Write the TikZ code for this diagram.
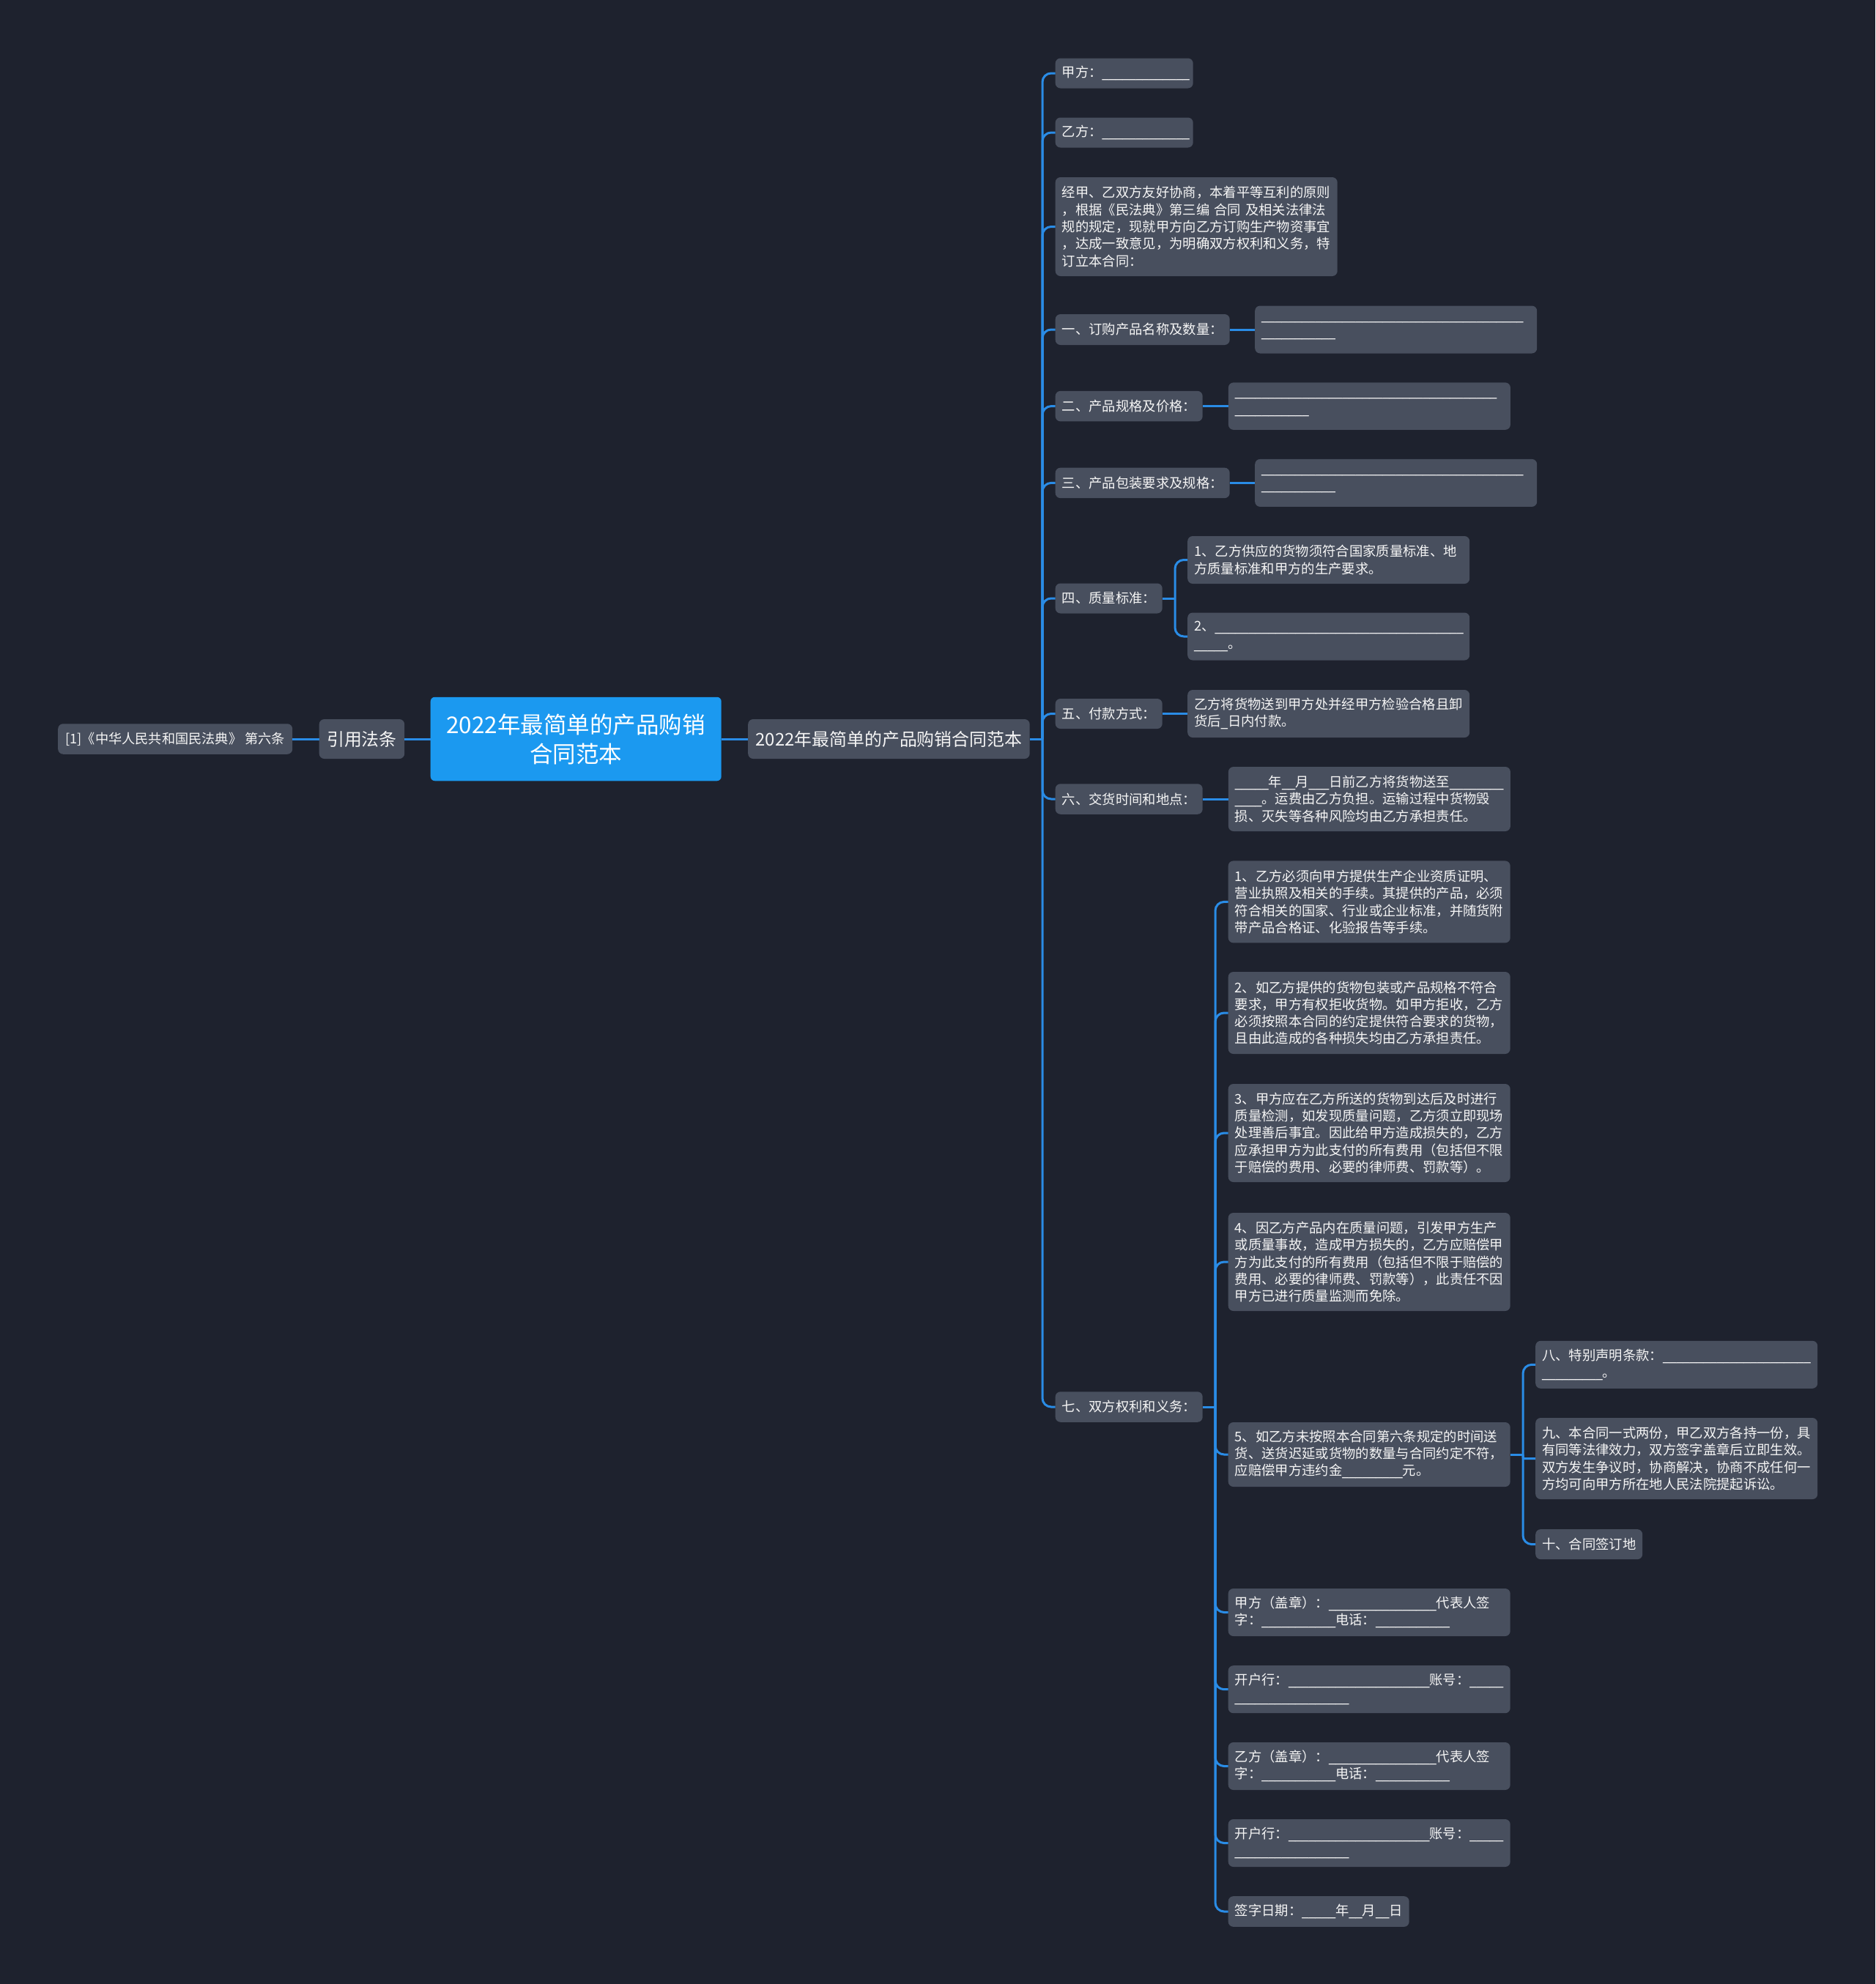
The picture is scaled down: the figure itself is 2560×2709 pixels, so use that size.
\documentclass[tikz,border=0pt]{standalone}
\usepackage{fontspec}
\setmainfont{Noto Sans CJK SC}
\newfontfamily\usfont{DejaVu Sans}
\ExplSyntaxOn
\NewDocumentCommand{\usc}{m}{{\usfont\prg_replicate:nn{#1}{\textunderscore}}}
\ExplSyntaxOff
\definecolor{bg}{RGB}{30,34,46}
\definecolor{nodefill}{RGB}{72,79,94}
\definecolor{rootfill}{RGB}{27,153,240}
\definecolor{linec}{RGB}{42,140,230}
\definecolor{txt}{RGB}{245,245,245}
\tikzset{
  box/.style={fill=nodefill, rounded corners=7pt, inner xsep=9pt, inner ysep=0pt,
    anchor=west, text=txt, align=left, font=\fontsize{18.33pt}{23.3pt}\selectfont},
  wide/.style={box, text width=367pt},
  lvlone/.style={fill=nodefill, rounded corners=7pt, inner sep=0pt, anchor=west,
    text=txt, align=center, font=\fontsize{23.9pt}{30pt}\selectfont},
  rootbox/.style={fill=rootfill, rounded corners=6pt, inner sep=0pt, anchor=west,
    text=white, align=center, minimum width=397pt, minimum height=114.5pt,
    font=\fontsize{31.5pt}{40pt}\selectfont},
  conn/.style={draw=linec, line width=3pt, rounded corners=12pt},
}
\begin{document}
\begin{tikzpicture}[x=1pt,y=-1pt]
\fill[bg] (0,0) rectangle (2560,2709);
\useasboundingbox (0,0) rectangle (2560,2709);

% left side
\node[lvlone, minimum width=320pt, minimum height=41.5pt, font=\fontsize{18.2pt}{22pt}\selectfont] (cite) at (79,1009) {[1]《中华人民共和国民法典》 第六条};
\node[lvlone, minimum width=116.5pt, minimum height=54pt] (ref) at (435.5,1009) {引用法条};
\node[rootbox] (root) at (587.5,1009) {2022年最简单的产品购销\\合同范本};
\node[lvlone, minimum width=384.5pt, minimum height=54pt] (main) at (1021,1009) {2022年最简单的产品购销合同范本};

% level 2
\node[box, text width=170pt, minimum height=41pt] (jia) at (1440.5,100) {甲方：\usc{13}};
\node[box, text width=170pt, minimum height=41pt] (yi) at (1440.5,181) {乙方：\usc{13}};
\node[wide, minimum height=135pt] (para) at (1440.5,309.5) {经甲、乙双方友好协商，本着平等互利的原则\\，根据《民法典》第三编 合同 及相关法律法\\规的规定，现就甲方向乙方订购生产物资事宜\\，达成一致意见，为明确双方权利和义务，特\\订立本合同：};
\node[box, text width=220pt, minimum height=42pt] (o1) at (1440.5,450) {一、订购产品名称及数量：};
\node[wide, minimum height=65pt] (o1c) at (1713,450) {\usc{39}\\\usc{11}};
\node[box, text width=183pt, minimum height=41.5pt] (o2) at (1440.5,554.6) {二、产品规格及价格：};
\node[wide, minimum height=64.5pt] (o2c) at (1676.7,554.6) {\usc{39}\\\usc{11}};
\node[box, text width=220pt, minimum height=41.5pt] (o3) at (1440.5,659.4) {三、产品包装要求及规格：};
\node[wide, minimum height=65pt] (o3c) at (1713,659.4) {\usc{39}\\\usc{11}};
\node[box, text width=128pt, minimum height=41pt] (o4) at (1440.5,817) {四、质量标准：};
\node[wide, minimum height=65pt] (o4a) at (1621,764.5) {1、乙方供应的货物须符合国家质量标准、地\\方质量标准和甲方的生产要求。};
\node[wide, minimum height=65pt] (o4b) at (1621,869) {2、\usc{37}\\\usc{5}。};
\node[box, text width=128pt, minimum height=41pt] (o5) at (1440.5,974.5) {五、付款方式：};
\node[wide, minimum height=65pt] (o5c) at (1621,974.5) {乙方将货物送到甲方处并经甲方检验合格且卸\\货后\usc{1}日内付款。};
\node[box, text width=183pt, minimum height=41.5pt] (o6) at (1440.5,1091) {六、交货时间和地点：};
\node[wide, minimum height=88pt] (o6c) at (1676.7,1091) {\usc{5}年\usc{2}月\usc{3}日前乙方将货物送至\usc{8}\\\usc{4}。运费由乙方负担。运输过程中货物毁\\损、灭失等各种风险均由乙方承担责任。};
\node[box, text width=183pt, minimum height=41.5pt] (o7) at (1440.5,1921) {七、双方权利和义务：};

% level 3 under 七
\node[wide, minimum height=112pt] (s1) at (1676.5,1231.4) {1、乙方必须向甲方提供生产企业资质证明、\\营业执照及相关的手续。其提供的产品，必须\\符合相关的国家、行业或企业标准，并随货附\\带产品合格证、化验报告等手续。};
\node[wide, minimum height=112pt] (s2) at (1676.5,1383) {2、如乙方提供的货物包装或产品规格不符合\\要求，甲方有权拒收货物。如甲方拒收，乙方\\必须按照本合同的约定提供符合要求的货物，\\且由此造成的各种损失均由乙方承担责任。};
\node[wide, minimum height=134pt] (s3) at (1676.5,1547) {3、甲方应在乙方所送的货物到达后及时进行\\质量检测，如发现质量问题，乙方须立即现场\\处理善后事宜。因此给甲方造成损失的，乙方\\应承担甲方为此支付的所有费用（包括但不限\\于赔偿的费用、必要的律师费、罚款等）。};
\node[wide, minimum height=134pt] (s4) at (1676.5,1723) {4、因乙方产品内在质量问题，引发甲方生产\\或质量事故，造成甲方损失的，乙方应赔偿甲\\方为此支付的所有费用（包括但不限于赔偿的\\费用、必要的律师费、罚款等），此责任不因\\甲方已进行质量监测而免除。};
\node[wide, minimum height=88pt] (s5) at (1676.5,1986) {5、如乙方未按照本合同第六条规定的时间送\\货、送货迟延或货物的数量与合同约定不符，\\应赔偿甲方违约金\usc{9}元。};
\node[wide, minimum height=65pt] (t8) at (2096,1863.3) {八、特别声明条款：\usc{22}\\\usc{9}。};
\node[wide, minimum height=111pt] (t9) at (2096,1991.5) {九、本合同一式两份，甲乙双方各持一份，具\\有同等法律效力，双方签字盖章后立即生效。\\双方发生争议时，协商解决，协商不成任何一\\方均可向甲方所在地人民法院提起诉讼。};
\node[box, text width=128pt, minimum height=41pt] (t10) at (2096,2108.6) {十、合同签订地};
\node[wide, minimum height=65pt] (s6) at (1676.5,2201.5) {甲方（盖章）：\usc{16}代表人签\\字：\usc{11}电话：\usc{11}};
\node[wide, minimum height=65pt] (s7) at (1676.5,2306.7) {开户行：\usc{21}账号：\usc{5}\\\usc{17}};
\node[wide, minimum height=65pt] (s8) at (1676.5,2411.5) {乙方（盖章）：\usc{16}代表人签\\字：\usc{11}电话：\usc{11}};
\node[wide, minimum height=65pt] (s9) at (1676.5,2516.5) {开户行：\usc{21}账号：\usc{5}\\\usc{17}};
\node[box, text width=229pt, minimum height=41.7pt] (s10) at (1676.5,2610) {签字日期：\usc{5}年\usc{2}月\usc{2}日};

% connectors
\draw[conn] (cite.east) -- (ref.west);
\draw[conn] (ref.east) -- (root.west);
\draw[conn] (root.east) -- (main.west);
\coordinate (j1) at (1423,1009);
\draw[conn] (main.east) -- (j1);
\foreach \n in {jia,yi,para,o1,o2,o3,o4,o5,o6,o7} \draw[conn] (j1) |- (\n.west);
\draw[conn] (o1.east) -- (o1c.west);
\draw[conn] (o2.east) -- (o2c.west);
\draw[conn] (o3.east) -- (o3c.west);
\coordinate (j4) at (1604,817);
\draw[conn] (o4.east) -- (j4);
\draw[conn] (j4) |- (o4a.west);
\draw[conn] (j4) |- (o4b.west);
\draw[conn] (o5.east) -- (o5c.west);
\draw[conn] (o6.east) -- (o6c.west);
\coordinate (j7) at (1659,1921);
\draw[conn] (o7.east) -- (j7);
\foreach \n in {s1,s2,s3,s4,s5,s6,s7,s8,s9,s10} \draw[conn] (j7) |- (\n.west);
\coordinate (j5) at (2079,1986);
\draw[conn] (s5.east) -- (j5);
\draw[conn] (j5) |- (t8.west);
\draw[conn, rounded corners=2pt] (j5) |- (t9.west);
\draw[conn] (j5) |- (t10.west);
\end{tikzpicture}
\end{document}
